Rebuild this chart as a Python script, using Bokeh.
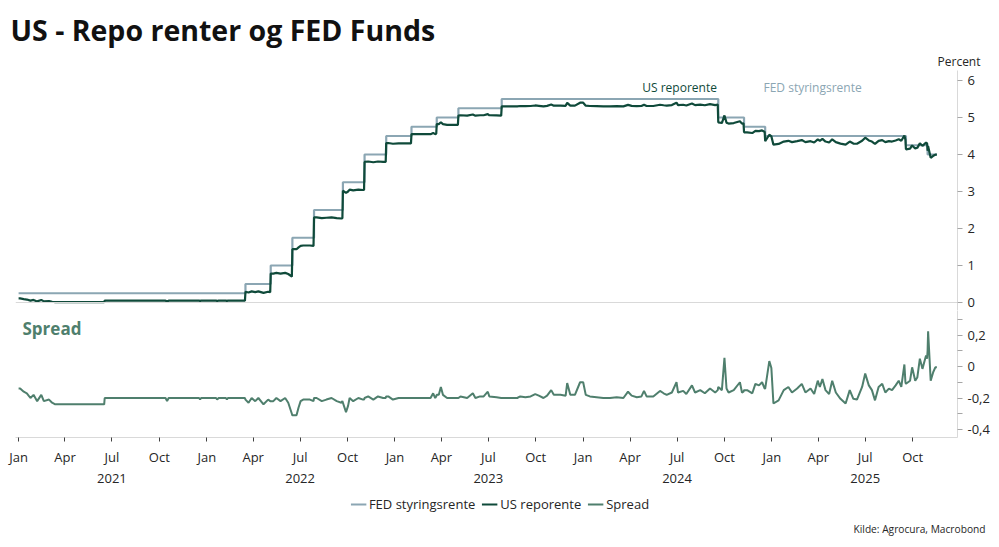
import numpy as np
import pandas as pd
from bokeh.plotting import figure
from bokeh.layouts import column
from bokeh.models import (Range1d, FixedTicker, MonthsTicker, DatetimeTickFormatter, DatetimeAxis,
                          Span, Label, Legend, LegendItem, CustomJSTickFormatter, Title)
from bokeh.embed import file_html
from bokeh.resources import INLINE

title_text = "US - Repo renter og FED Funds"
source_text = "Kilde: Agrocura, Macrobond"
unit_text = "Percent"
series_names = ["FED styringsrente", "US reporente", "Spread"]

# FED funds target (upper bound), step changes
fed_dates = ["2021-01-01", "2022-03-17", "2022-05-05", "2022-06-16", "2022-07-28", "2022-09-22",
             "2022-11-03", "2022-12-15", "2023-02-02", "2023-03-23", "2023-05-04", "2023-07-27",
             "2024-09-19", "2024-11-08", "2024-12-19", "2025-09-18", "2025-10-30"]
fed_values = [0.25, 0.50, 1.00, 1.75, 2.50, 3.25, 4.00, 4.50, 4.75, 5.00, 5.25, 5.50,
              5.00, 4.75, 4.50, 4.25, 4.00]
last_date = "2025-11-17"

# Spread: US repo rate minus FED rate
spread_dates = [
    "2021-01-01", "2021-01-04", "2021-01-11", "2021-01-17", "2021-01-24", "2021-01-30", "2021-02-06",
    "2021-02-14", "2021-02-19", "2021-03-01", "2021-03-07", "2021-03-13", "2021-06-16", "2021-06-17",
    "2021-10-13", "2021-10-16", "2021-10-19", "2021-12-17", "2021-12-19", "2021-12-21",
    "2022-01-19", "2022-01-21", "2022-01-24", "2022-02-07", "2022-02-09", "2022-02-11",
    "2022-03-16", "2022-03-17", "2022-03-23", "2022-03-29", "2022-04-05", "2022-04-11", "2022-04-21",
    "2022-04-30", "2022-05-04", "2022-05-05", "2022-05-10", "2022-05-16", "2022-05-24", "2022-06-02",
    "2022-06-08", "2022-06-15", "2022-06-16", "2022-06-24", "2022-06-28", "2022-07-02", "2022-07-07",
    "2022-07-20", "2022-07-27", "2022-07-28", "2022-08-02", "2022-08-12", "2022-08-21", "2022-08-31",
    "2022-09-10", "2022-09-19", "2022-09-21", "2022-09-22", "2022-09-28", "2022-10-02", "2022-10-05",
    "2022-10-12", "2022-10-22", "2022-10-31", "2022-11-02", "2022-11-03", "2022-11-10", "2022-11-20",
    "2022-11-29", "2022-12-09", "2022-12-14", "2022-12-15", "2022-12-19", "2022-12-28",
    "2023-01-08", "2023-01-18", "2023-01-31", "2023-02-01", "2023-02-02", "2023-02-13", "2023-02-26",
    "2023-03-11", "2023-03-16", "2023-03-20", "2023-03-22", "2023-03-23", "2023-03-27", "2023-03-31",
    "2023-04-04", "2023-04-12", "2023-04-25", "2023-05-03", "2023-05-04", "2023-05-08", "2023-05-21",
    "2023-06-01", "2023-06-06", "2023-06-15", "2023-06-22", "2023-06-30", "2023-07-03", "2023-07-17",
    "2023-07-26", "2023-07-27", "2023-08-12", "2023-08-26", "2023-09-01", "2023-09-11", "2023-09-21",
    "2023-09-30", "2023-10-07", "2023-10-16", "2023-10-23", "2023-10-31", "2023-11-05", "2023-11-18",
    "2023-11-28", "2023-12-01", "2023-12-07", "2023-12-16", "2023-12-26",
    "2024-01-01", "2024-01-06", "2024-01-14", "2024-01-27", "2024-02-09", "2024-02-22", "2024-03-06",
    "2024-03-19", "2024-03-28", "2024-04-04", "2024-04-14", "2024-04-23", "2024-04-28", "2024-05-03",
    "2024-05-16", "2024-05-29", "2024-06-05", "2024-06-11", "2024-06-21", "2024-06-30", "2024-07-03",
    "2024-07-13", "2024-07-19", "2024-07-30", "2024-08-05", "2024-08-15", "2024-08-24", "2024-09-03",
    "2024-09-13", "2024-09-18", "2024-09-19", "2024-09-26", "2024-10-01", "2024-10-05", "2024-10-09",
    "2024-10-19", "2024-10-31", "2024-11-04", "2024-11-07", "2024-11-08", "2024-11-14", "2024-11-24",
    "2024-11-30", "2024-12-07", "2024-12-13", "2024-12-18", "2024-12-19", "2024-12-27", "2024-12-31",
    "2025-01-04", "2025-01-14", "2025-01-24", "2025-02-02", "2025-02-09", "2025-02-19", "2025-02-28",
    "2025-03-07", "2025-03-17", "2025-03-24", "2025-03-31", "2025-04-04", "2025-04-09", "2025-04-15",
    "2025-04-22", "2025-04-28", "2025-05-05", "2025-05-14", "2025-05-24", "2025-06-01", "2025-06-08",
    "2025-06-15", "2025-06-25", "2025-07-01", "2025-07-08", "2025-07-14", "2025-07-20", "2025-07-27",
    "2025-08-03", "2025-08-09", "2025-08-16", "2025-08-22", "2025-08-29", "2025-09-04", "2025-09-09",
    "2025-09-15", "2025-09-17", "2025-09-18", "2025-09-26", "2025-09-30", "2025-10-06", "2025-10-10",
    "2025-10-15", "2025-10-20", "2025-10-27", "2025-10-29", "2025-10-30", "2025-10-31", "2025-11-05",
    "2025-11-10", "2025-11-14", "2025-11-17"]
spread_values = [
    -0.14, -0.14, -0.16, -0.17, -0.20, -0.18, -0.22,
    -0.18, -0.22, -0.21, -0.23, -0.24, -0.24, -0.20,
    -0.20, -0.22, -0.20, -0.20, -0.21, -0.20,
    -0.20, -0.21, -0.20, -0.20, -0.21, -0.20,
    -0.20, -0.21, -0.23, -0.20, -0.22, -0.20, -0.24,
    -0.21, -0.22, -0.22, -0.22, -0.20, -0.22, -0.20,
    -0.23, -0.30, -0.31, -0.31, -0.26, -0.22, -0.21,
    -0.21, -0.22, -0.20, -0.20, -0.22, -0.21, -0.20,
    -0.22, -0.23, -0.22, -0.23, -0.29, -0.25, -0.20,
    -0.22, -0.20, -0.21, -0.21, -0.20, -0.19, -0.21,
    -0.19, -0.20, -0.20, -0.19, -0.19, -0.21,
    -0.20, -0.20, -0.20, -0.20, -0.20, -0.20, -0.20,
    -0.20, -0.17, -0.20, -0.19, -0.18, -0.18, -0.13,
    -0.18, -0.20, -0.20, -0.20, -0.20, -0.19, -0.20,
    -0.17, -0.20, -0.19, -0.19, -0.16, -0.19, -0.195,
    -0.20, -0.20, -0.20, -0.20, -0.19, -0.195, -0.19,
    -0.175, -0.185, -0.20, -0.185, -0.15, -0.18, -0.18,
    -0.185, -0.105, -0.18, -0.18, -0.10,
    -0.10, -0.18, -0.19, -0.195, -0.20, -0.20, -0.195,
    -0.20, -0.16, -0.185, -0.195, -0.19, -0.155, -0.19,
    -0.19, -0.155, -0.17, -0.18, -0.165, -0.10, -0.165,
    -0.155, -0.175, -0.12, -0.165, -0.15, -0.17, -0.14,
    -0.165, -0.15, -0.13, -0.15, 0.055, -0.14, -0.165,
    -0.15, -0.10, -0.165, -0.16, -0.15, -0.15, -0.17,
    -0.11, -0.12, -0.10, -0.14, -0.14, 0.034, -0.01,
    -0.235, -0.215, -0.15, -0.13, -0.165, -0.14, -0.11,
    -0.165, -0.14, -0.175, -0.09, -0.13, -0.08, -0.15,
    -0.175, -0.09, -0.165, -0.205, -0.235, -0.15, -0.205,
    -0.21, -0.13, -0.045, -0.12, -0.15, -0.215, -0.13,
    -0.11, -0.165, -0.14, -0.15, -0.12, -0.09, -0.13,
    0.013, -0.10, -0.11, -0.09, -0.005, -0.09, -0.07,
    0.05, -0.015, 0.07, 0.05, 0.10, 0.224, -0.09,
    -0.035, -0.005, -0.005]

top_ticks = [0, 1, 2, 3, 4, 5, 6]
spread_ticks = [-0.4, -0.2, 0.0, 0.2]
spread_minor_ticks = [-0.3, -0.1, 0.1, 0.3]

FONT = "Open Sans"
C_FED = "#8ba6b3"
C_REPO = "#0f4a3a"
C_SPREAD = "#4f7f6d"
C_TEXT = "#262626"
C_AXIS = "#d9d9d9"

fed_idx = pd.to_datetime(fed_dates)
sp_idx = pd.to_datetime(spread_dates)
sp = np.array(spread_values)
fed_lookup = np.array(fed_values)[np.searchsorted(fed_idx.values, sp_idx.values, side="right") - 1]
repo = fed_lookup + sp

fed_x = list(fed_idx) + [pd.Timestamp(last_date)]
fed_y = list(fed_values) + [fed_values[-1]]

x_range = Range1d(pd.Timestamp("2020-12-26"), pd.Timestamp("2025-12-27"))

def style_right_axis(ax):
    ax.axis_line_color = C_AXIS
    ax.major_tick_line_color = "#a6a6a6"
    ax.minor_tick_line_color = "#a6a6a6"
    ax.major_tick_out = 5
    ax.major_tick_in = 0
    ax.minor_tick_out = 5
    ax.minor_tick_in = 0
    ax.major_label_text_font = FONT
    ax.major_label_text_font_size = "13px"
    ax.major_label_text_color = C_TEXT
    ax.major_label_standoff = 5

# ---------------- top panel ----------------
pt = figure(x_axis_type="datetime", x_range=x_range, y_range=Range1d(-0.216, 6.27),
            frame_width=942, frame_height=240, min_border_left=15, min_border_right=34,
            min_border_top=70, min_border_bottom=0, x_axis_location=None,
            y_axis_location="right", toolbar_location=None, output_backend="svg",
            outline_line_color=None, background_fill_color="white", border_fill_color="white")
pt.title.visible = False
pt.grid.visible = False
pt.yaxis.ticker = FixedTicker(ticks=top_ticks)
style_right_axis(pt.yaxis[0])
pt.add_layout(Span(location=0, dimension="width", line_color=C_AXIS, line_width=1))

pt.step(fed_x, fed_y, mode="after", line_color=C_FED, line_width=2.2)
pt.line(sp_idx, repo, line_color=C_REPO, line_width=2.2)

pt.add_layout(Title(text=unit_text, align="right", offset=-23, standoff=2,
                    text_font=FONT, text_font_size="12px", text_font_style="normal",
                    text_color=C_TEXT), "above")
pt.add_layout(Title(text=title_text, align="left", offset=-5, standoff=2,
                    text_font=FONT, text_font_size="28.5px", text_font_style="bold",
                    text_color="#111111"), "above")

pt.add_layout(Label(x=pd.Timestamp("2024-07-06"), y=5.81, text=series_names[1],
                    text_font=FONT, text_font_size="12px", text_color=C_REPO,
                    text_align="center", text_baseline="middle"))
pt.add_layout(Label(x=pd.Timestamp("2025-03-21"), y=5.81, text=series_names[0],
                    text_font=FONT, text_font_size="12px", text_color=C_FED,
                    text_align="center", text_baseline="middle"))

# ---------------- bottom panel ----------------
pb = figure(x_axis_type="datetime", x_range=x_range, y_range=Range1d(-0.4508, 0.3556),
            frame_width=942, frame_height=127, min_border_left=15, min_border_right=34,
            min_border_top=0, min_border_bottom=52, y_axis_location="right",
            toolbar_location=None, output_backend="svg", outline_line_color=None,
            background_fill_color="white", border_fill_color="white")
pb.title.visible = False
pb.grid.visible = False
pb.yaxis.ticker = FixedTicker(ticks=spread_ticks, minor_ticks=spread_minor_ticks)
pb.yaxis.formatter = CustomJSTickFormatter(
    code="if (Math.abs(tick) < 1e-9) { return '0'; } return tick.toFixed(1).replace('.', ',');")
style_right_axis(pb.yaxis[0])

pb.line(sp_idx, sp, line_color=C_SPREAD, line_width=2)

mx = pb.xaxis[0]
mx.ticker = MonthsTicker(months=[0, 3, 6, 9])
mx.formatter = DatetimeTickFormatter(days="%b", months="%b", years="%b")
mx.axis_line_color = C_AXIS
mx.major_tick_line_color = "#404040"
mx.major_tick_out = 4
mx.major_tick_in = 0
mx.minor_tick_line_color = None
mx.major_label_text_font = FONT
mx.major_label_text_font_size = "13px"
mx.major_label_text_color = C_TEXT
mx.major_label_standoff = 6

yx = DatetimeAxis(ticker=MonthsTicker(months=[6]),
                  formatter=DatetimeTickFormatter(days="%Y", months="%Y", years="%Y"),
                  axis_line_color=None, major_tick_line_color=None, minor_tick_line_color=None,
                  major_tick_out=0, major_tick_in=0,
                  major_label_text_font=FONT, major_label_text_font_size="13px",
                  major_label_text_color=C_TEXT, major_label_standoff=5)
pb.add_layout(yx, "below")

pb.add_layout(Label(x=7, y=109, x_units="screen", y_units="screen", text=series_names[2],
                    text_font=FONT, text_font_style="bold", text_font_size="17px",
                    text_color=C_SPREAD, text_baseline="middle"))

# ---------------- legend / source strip ----------------
# legend proxies carry the real series but lie outside this strip's ranges (not visible)
pl = figure(x_range=Range1d(0, 1), y_range=Range1d(0, 1), frame_width=999, frame_height=56,
            min_border=0, x_axis_location=None, y_axis_location=None, toolbar_location=None,
            output_backend="svg", outline_line_color=None, background_fill_color="white",
            border_fill_color="white")
pl.title.visible = False
pl.grid.visible = False
r_fed_p = pl.step(fed_x, fed_y, mode="after", line_color=C_FED, line_width=2.2)
r_repo_p = pl.line(sp_idx, repo, line_color=C_REPO, line_width=2.2)
r_sp_p = pl.line(sp_idx, sp, line_color=C_SPREAD, line_width=2)
legend = Legend(items=[LegendItem(label=series_names[0], renderers=[r_fed_p]),
                       LegendItem(label=series_names[1], renderers=[r_repo_p]),
                       LegendItem(label=series_names[2], renderers=[r_sp_p])],
                orientation="horizontal", location="top_center", border_line_color=None,
                background_fill_alpha=0, label_text_font=FONT, label_text_font_size="13px",
                label_text_color=C_TEXT, glyph_width=16, label_standoff=3, spacing=6,
                padding=0, margin=5)
pl.add_layout(legend)
pl.add_layout(Label(x=838, y=17, x_units="screen", y_units="screen", text=source_text,
                    text_font=FONT, text_font_size="10.2px", text_color=C_TEXT,
                    text_align="left", text_baseline="middle"))

layout = column(pt, pb, pl, spacing=0)
open("out.html", "w").write(file_html(layout, INLINE))
